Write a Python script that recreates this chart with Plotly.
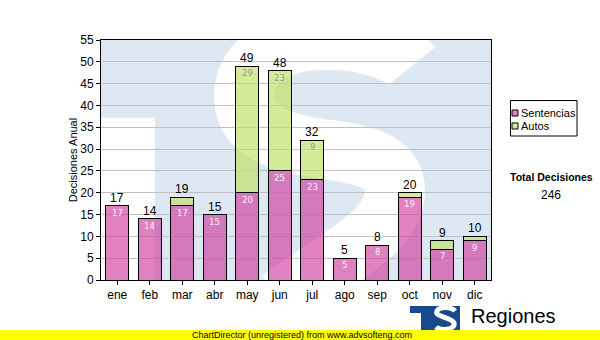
import plotly.graph_objects as go

# Monthly decisions, split by type
months = ["ene", "feb", "mar", "abr", "may", "jun", "jul", "ago", "sep", "oct", "nov", "dic"]
sentencias = [17, 14, 17, 15, 20, 25, 23, 5, 8, 19, 7, 9]
autos = [0, 0, 2, 0, 29, 23, 9, 0, 0, 1, 2, 1]
series_names = ["Sentencias", "Autos"]

totals = [s + a for s, a in zip(sentencias, autos)]
grand_total = sum(totals)

PINK = "rgba(208,64,160,0.66)"
GREEN = "rgba(190,224,100,0.66)"
WATERMARK = "#dde8f2"
LOGO_BLUE = "#164a8c"

# Plot area in page pixels
L, T, R, B = 101, 40, 491, 280
W, H = 600, 340


def px(x, y):
    """Page pixel -> paper coordinates."""
    return (x - L) / (R - L), (B - y) / (B - T)


def path(cmds):
    out = []
    for letter, pts in cmds:
        coords = " ".join("%.4f,%.4f" % px(x, y) for x, y in pts)
        out.append(letter + coords)
    return " ".join(out)


fig = go.Figure()
fig.add_trace(go.Bar(x=months, y=sentencias, name=series_names[0],
                     marker=dict(color=PINK, line=dict(color="black", width=1)),
                     showlegend=False, hoverinfo="skip"))
fig.add_trace(go.Bar(x=months, y=autos, name=series_names[1],
                     marker=dict(color=GREEN, line=dict(color="black", width=1)),
                     showlegend=False, hoverinfo="skip"))

shapes = []
# faint logo watermark behind the bars
shapes.append(dict(type="rect", xref="paper", yref="paper", x0=0, y0=0, x1=1, y1=1,
                   fillcolor=WATERMARK, line=dict(width=0), layer="below"))
x0, y0 = px(L, 118)
x1, y1 = px(155, B)
shapes.append(dict(type="rect", xref="paper", yref="paper", x0=x0, y0=y1, x1=x1, y1=y0,
                   fillcolor="white", line=dict(width=0), layer="below"))
shapes.append(dict(type="path", xref="paper", yref="paper", layer="below",
                   path=path([("M", [(412, 66)]),
                              ("C", [(395, 45), (340, 35), (300, 42)]),
                              ("C", [(255, 50), (240, 80), (245, 105)]),
                              ("C", [(250, 135), (290, 145), (330, 150)]),
                              ("C", [(370, 155), (395, 165), (395, 190)]),
                              ("C", [(395, 215), (375, 235), (345, 255)]),
                              ("C", [(320, 272), (300, 285), (280, 300)])]),
                   line=dict(color="white", width=60)))

# legend box
lx0, ly0 = px(510.5, 100.5)
lx1, ly1 = px(577, 136)
shapes.append(dict(type="rect", xref="paper", yref="paper", x0=lx0, y0=ly1, x1=lx1, y1=ly0,
                   fillcolor="white", line=dict(color="black", width=1)))
for i, col in enumerate([PINK, GREEN]):
    cy = 113 + 13 * i
    a0, b0 = px(512, cy - 3)
    a1, b1 = px(518, cy + 3)
    shapes.append(dict(type="rect", xref="paper", yref="paper", x0=a0, y0=b1, x1=a1, y1=b0,
                       fillcolor=col, line=dict(color="black", width=1)))

# small logo at the bottom
for (ax0, ay0, ax1, ay1) in [(410, 306, 460, 313), (421, 306, 431, 335), (431, 306, 460, 335)]:
    a0, b0 = px(ax0, ay0)
    a1, b1 = px(ax1, ay1)
    shapes.append(dict(type="rect", xref="paper", yref="paper", x0=a0, y0=b1, x1=a1, y1=b0,
                       fillcolor=LOGO_BLUE, line=dict(width=0)))
shapes.append(dict(type="path", xref="paper", yref="paper",
                   path=path([("M", [(455, 311)]),
                              ("C", [(452, 307), (440, 306), (437, 311)]),
                              ("C", [(434, 317), (452, 317), (454, 323)]),
                              ("C", [(456, 330), (440, 331), (436, 327)])]),
                   line=dict(color="white", width=5)))

# yellow footer band
a0, b0 = px(0, 330)
a1, b1 = px(W, H)
shapes.append(dict(type="rect", xref="paper", yref="paper", x0=a0, y0=b1, x1=a1, y1=b0,
                   fillcolor="#ffff00", line=dict(width=0)))

annotations = []
for m, s, a, t in zip(months, sentencias, autos, totals):
    annotations.append(dict(x=m, y=t, xref="x", yref="y", text=str(t), showarrow=False,
                            yanchor="bottom", yshift=-1,
                            font=dict(family="Liberation Sans", size=12, color="black")))
    annotations.append(dict(x=m, y=s, xref="x", yref="y", text=str(s), showarrow=False,
                            yanchor="middle", yshift=-7,
                            font=dict(family="DejaVu Sans", size=8.5, color="#fdeef8")))
    if a >= 5:
        annotations.append(dict(x=m, y=t, xref="x", yref="y", text=str(a), showarrow=False,
                                yanchor="middle", yshift=-7,
                                font=dict(family="DejaVu Sans", size=8.5, color="#9a9a9a")))


def page_text(x, y, text, size, family="Liberation Sans", xanchor="left", color="black", bold=False):
    ax, ay = px(x, y)
    if bold:
        text = "<b>" + text + "</b>"
    annotations.append(dict(x=ax, y=ay, xref="paper", yref="paper", text=text, showarrow=False,
                            xanchor=xanchor, yanchor="middle",
                            font=dict(family=family, size=size, color=color)))


for i, name in enumerate(series_names):
    page_text(519, 113 + 13 * i, name, 11)
page_text(551, 177, "Total Decisiones", 10.5, xanchor="center", bold=True)
page_text(551, 195, str(grand_total), 12, xanchor="center")
page_text(469, 316, "Regiones", 20)
page_text(190, 335, "ChartDirector (unregistered) from www.advsofteng.com", 9)

fig.update_layout(
    width=W, height=H,
    margin=dict(l=L, r=W - R, t=T, b=H - B, pad=0),
    barmode="stack", bargap=0.3,
    paper_bgcolor="white", plot_bgcolor="white",
    showlegend=False,
    shapes=shapes, annotations=annotations,
    font=dict(family="Liberation Sans", color="black"),
)
fig.update_yaxes(range=[0, 55], tick0=0, dtick=5, showgrid=True, gridcolor="#c0c0c0", gridwidth=1,
                 zeroline=False, showline=True, mirror=True, linecolor="black", linewidth=1,
                 ticks="outside", ticklen=4, tickcolor="black",
                 tickfont=dict(family="Liberation Sans", size=12, color="black"),
                 title=dict(text="Decisiones Anual", standoff=0,
                            font=dict(family="Liberation Sans", size=11, color="black")))
fig.update_xaxes(showline=True, mirror=True, linecolor="black", linewidth=1,
                 ticks="outside", ticklen=4, tickcolor="black",
                 tickfont=dict(family="Liberation Sans", size=12, color="black"))

fig.write_html("out.html", config=dict(displayModeBar=False))
